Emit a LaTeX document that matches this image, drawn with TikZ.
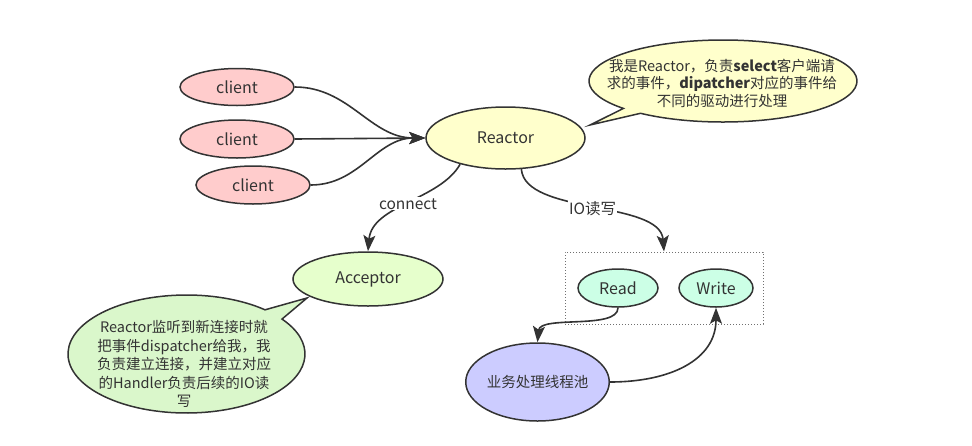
\documentclass[tikz,border=0pt]{standalone}
\usepackage{fontspec}
\setmainfont{Noto Sans CJK SC}
\usetikzlibrary{shapes.geometric,arrows.meta,calc}
\definecolor{ink}{HTML}{333333}
\definecolor{clientfill}{HTML}{FFCCCC}
\definecolor{reactorfill}{HTML}{FFFFCC}
\definecolor{acceptorfill}{HTML}{E6FFCC}
\definecolor{bubblegreen}{HTML}{DAF7CB}
\definecolor{rwfill}{HTML}{CCFFE6}
\definecolor{poolfill}{HTML}{CCCCFF}
\begin{document}
\begin{tikzpicture}[x=1pt,y=1pt,
  every node/.style={text=ink},
  oval/.style={ellipse, draw=ink, line width=1.5pt, inner sep=0pt, font=\fontsize{16}{19}\selectfont},
  edge/.style={draw=ink, line width=1.6pt, -{Stealth[length=16pt,width=12pt,inset=3.5pt]}},
  lbl/.style={fill=white, inner sep=1pt, font=\fontsize{15.5}{18}\selectfont},
  bubble/.style={draw=ink, line width=1.5pt},
  bubbletext/.style={align=center, font=\fontsize{14.5}{18.5}\selectfont}
]
\useasboundingbox (0,0) rectangle (972,-445);

% callout of Reactor
\path[bubble, fill=reactorfill] ($(723,-81)+(232:134pt and 41pt)$)
  arc[start angle=232, end angle=582, x radius=134pt, y radius=41pt]
  -- (590,-125) -- cycle;
\node[bubbletext, font=\fontsize{14.5}{17.5}\selectfont] (rtext) at (722,-83)
  {我是Reactor，负责{\bfseries select}客户端请\\求的事件，{\bfseries dipatcher}对应的事件给\\不同的驱动进行处理};

% callout of Acceptor
\path[bubble, fill=bubblegreen] ($(186.5,-354)+(48.5:118.5pt and 59pt)$)
  arc[start angle=48.5, end angle=396.3, x radius=118.5pt, y radius=59pt]
  -- (307,-298) -- cycle;
\node[bubbletext] (atext) at (184,-364)
  {Reactor监听到新连接时就\\把事件dispatcher给我，我\\负责建立连接，并建立对应\\的Handler负责后续的IO读\\写};

% nodes
\node[oval, fill=clientfill, minimum width=114pt, minimum height=37pt] (c1) at (237,-87) {client};
\node[oval, fill=clientfill, minimum width=114pt, minimum height=38pt] (c2) at (237,-139) {client};
\node[oval, fill=clientfill, minimum width=114pt, minimum height=38pt] (c3) at (253,-185) {client};
\node[oval, fill=reactorfill, minimum width=159pt, minimum height=62pt] (R) at (505.5,-138) {Reactor};
\node[oval, fill=acceptorfill, minimum width=150pt, minimum height=54pt] (A) at (368,-279) {Acceptor};
\node[draw=ink!70, dotted, line width=1pt, minimum width=198pt, minimum height=72pt, inner sep=0pt] (box) at (664,-288) {};
\node[oval, fill=rwfill, minimum width=80pt, minimum height=38pt] (Rd) at (618,-288) {Read};
\node[oval, fill=rwfill, minimum width=74pt, minimum height=38pt] (W) at (716,-288) {Write};
\node[oval, fill=poolfill, minimum width=135pt, minimum height=78pt, font=\fontsize{14.5}{17}\selectfont] (P) at (537.5,-382) {业务处理线程池};

% connectors
\draw[edge] (c1.east) to[out=0,in=180] (R.west);
\draw[edge] (c2.east) -- (R.west);
\draw[edge] (c3.east) to[out=0,in=180] (R.west);
\draw[edge] (R.210) .. controls (440,-200) and (372,-205) .. (A.north)
  node[lbl, pos=0.5] (lconnect) {connect};
\draw[edge] (R.-63) .. controls (525,-215) and (660,-200) .. (box.north)
  node[lbl, pos=0.5] (lio) {IO读写};
\draw[edge] (Rd.south) .. controls (618,-330) and (540,-315) .. (P.north);
\draw[edge] (P.east) .. controls (670,-382) and (716,-360) .. (W.south);
\end{tikzpicture}
\end{document}
